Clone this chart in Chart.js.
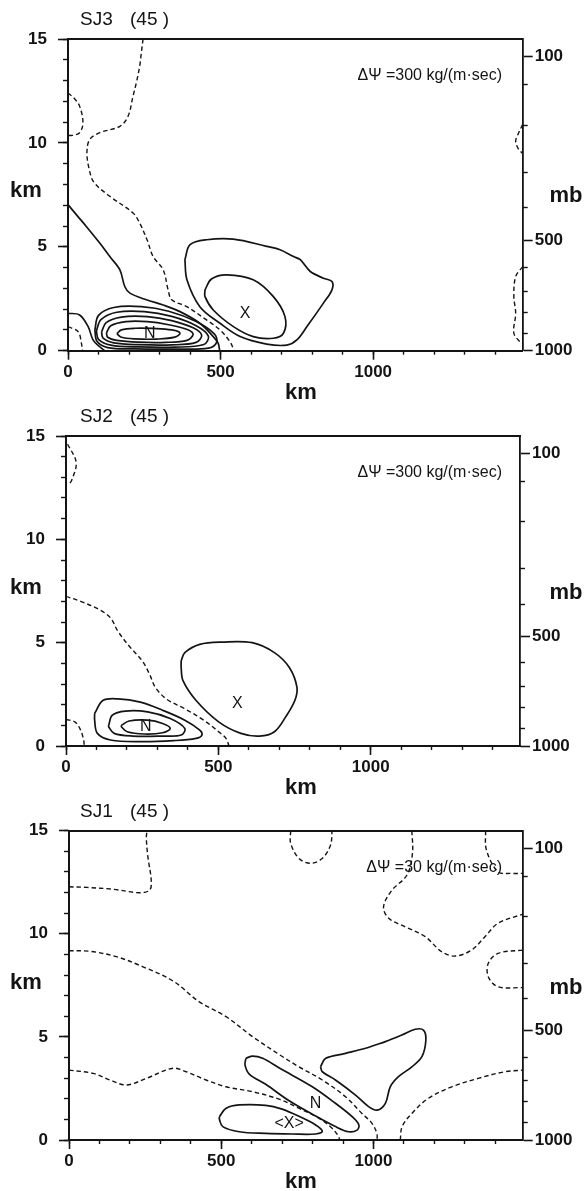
<!DOCTYPE html>
<html>
<head>
<meta charset="utf-8">
<script src="https://cdn.jsdelivr.net/npm/chart.js@4.4.1/dist/chart.umd.min.js"></script>
<style>
  html, body { margin: 0; padding: 0; background: #fff; }
  #wrap { position: relative; width: 586px; height: 1191px; overflow: hidden; }
  canvas { position: absolute; left: 0; }
</style>
</head>
<body>
<div id="wrap">
  <canvas id="c1" width="586" height="410" style="top:0px"></canvas>
  <canvas id="c2" width="586" height="410" style="top:397px"></canvas>
  <canvas id="c3" width="586" height="400" style="top:791px"></canvas>
</div>
<script>
// Axes (km en x et z, pression à droite)
const xMax = 1490;
const xMajorTicks = [0, 500, 1000];
const xMinorTicks = [0, 100, 200, 300, 400, 500, 600, 700, 800, 900, 1000, 1100, 1200, 1300, 1400];
const yMajorTicks = [0, 5, 10, 15];
const yMinorTicks = [0, 1, 2, 3, 4, 5, 6, 7, 8, 9, 10, 11, 12, 13, 14, 15];
const mbLevels  = [100, 150, 200, 300, 400, 500, 600, 700, 800, 900, 1000];
const mbHeights = [14.15, 12.8, 10.85, 8.58, 6.87, 5.3, 4.02, 2.87, 1.85, 0.84, 0];
const mbLabelled = [100, 500, 1000];

// SJ3 : contours [x km, z km]
const sj3DashLong = [[246,15],[240,14.3],[235,13.7],[224,12.9],[213,12.25],[197,11.29],[170,10.8],[104,10.49],[71,10.16],[62,9.52],[70,8.7],[85,8.1],[137,7.43],[213,6.63],[235,6.14],[260,5.3],[279,4.53],[312,3.89],[328,2.93],[340,2.45],[389,2.12],[454,1.48],[498,1.0],[530,0.45],[545,0]];
const sj3DashLoop = [[0,12.4],[20,12.15],[38,11.77],[49,10.97],[38,10.49],[15,10.36],[0,10.36]];
const sj3SolidUpper = [[0,7.03],[30,6.5],[60,5.98],[104,5.18],[137,4.53],[170,3.89],[186,3.09],[203,2.77],[257,2.45],[312,2.2],[367,1.88],[432,1.32],[476,0.68],[492,0.36],[497,0]];
const sj3SolidCorner = [[0,1.8],[38,1.72],[66,1.16],[82,0.52],[104,0.19],[120,0]];
const sj3DashCorner = [[0,1.16],[33,0.92],[44,0.36],[47,0]];
const sj3N1 = [[160,0.82],[175,1.0],[220,1.08],[280,1.07],[340,1.0],[367,0.85],[350,0.65],[290,0.56],[220,0.57],[175,0.65],[160,0.82]];
const sj3N2 = [[126,0.85],[140,1.2],[190,1.4],[260,1.4],[330,1.25],[395,1.0],[410,0.78],[390,0.5],[320,0.4],[230,0.41],[160,0.5],[130,0.65],[126,0.85]];
const sj3N3 = [[110,0.9],[125,1.35],[175,1.62],[260,1.64],[340,1.45],[410,1.1],[438,0.75],[420,0.4],[340,0.28],[230,0.29],[150,0.38],[115,0.6],[110,0.9]];
const sj3N4 = [[93,0.95],[108,1.5],[160,1.85],[250,1.88],[340,1.65],[420,1.2],[460,0.7],[445,0.3],[350,0.17],[230,0.18],[140,0.27],[100,0.55],[93,0.95]];
const sj3N5 = [[88,1.0],[100,1.7],[150,2.08],[240,2.12],[330,1.9],[420,1.4],[480,0.8],[487,0.4],[460,0.12],[350,0.08],[220,0.09],[130,0.15],[95,0.45],[88,1.0]];
const sj3XInner = [[449,2.93],[470,3.45],[520,3.65],[607,3.41],[673,2.6],[711,1.64],[706,0.84],[673,0.6],[607,0.68],[542,1.16],[476,1.96],[449,2.6],[449,2.93]];
const sj3XOuter = [[383,4.38],[400,5.1],[454,5.34],[542,5.37],[651,5.02],[695,4.86],[739,4.53],[761,4.38],[794,3.81],[837,3.49],[865,3.33],[865,2.93],[837,2.29],[783,1.16],[750,0.52],[717,0.27],[651,0.32],[564,0.68],[498,1.32],[432,2.12],[390,3.4],[383,4.38]];
const sj3DashRightUp = [[1490,10.89],[1477,10.49],[1467,10.08],[1477,9.68],[1490,9.5]];
const sj3DashRightLow = [[1490,4.05],[1467,3.57],[1461,2.6],[1467,1.8],[1461,0.84],[1483,0.4],[1490,0.35]];
const sj3Marks = [['N', 268, 0.84], ['X', 580, 1.8]];

// SJ2
const sj2DashLong = [[0,7.24],[48,7.0],[109,6.6],[146,6.2],[170,5.56],[207,4.84],[250,4.12],[274,3.48],[293,2.84],[329,2.28],[390,1.8],[452,1.25],[501,0.69],[525,0.37],[535,0]];
const sj2DashCorner = [[0,1.28],[29,1.17],[48,0.77],[58,0.29],[60,0]];
const sj2DashTop = [[5,14.6],[30,13.92],[33,13.51],[19,12.87],[13,12.71]];
const sj2NOuter = [[94,1.57],[121,2.2],[170,2.28],[244,2.12],[317,1.73],[390,1.25],[439,0.77],[446,0.53],[427,0.37],[354,0.26],[244,0.21],[146,0.29],[103,0.61],[94,1.25],[94,1.57]];
const sj2NMid = [[140,1.0],[152,1.49],[195,1.69],[268,1.65],[342,1.33],[390,0.85],[378,0.53],[317,0.48],[219,0.48],[158,0.61],[140,0.93],[140,1.0]];
const sj2NInner = [[182,1.0],[207,1.21],[268,1.25],[317,1.09],[342,0.85],[317,0.64],[256,0.58],[201,0.69],[182,0.93],[182,1.0]];
const sj2X = [[378,4.12],[390,4.52],[439,4.92],[513,5.03],[611,5.0],[684,4.52],[733,3.8],[758,2.84],[751,2.2],[721,1.41],[684,0.69],[635,0.48],[574,0.61],[501,1.17],[427,2.2],[384,3.16],[378,3.8],[378,4.12]];
const sj2Marks = [['N', 262, 0.93], ['X', 562, 2.04]];

// SJ1
const sj1DashA = [[0,12.28],[58,12.25],[145,12.16],[232,11.99],[265,12.12],[270,12.6],[259,13.74],[254,14.63],[256,15]];
const sj1DashB = [[0,9.18],[69,9.15],[156,8.89],[243,8.4],[341,7.72],[428,6.7],[516,5.98],[603,5.01],[690,4.15],[755,3.55],[832,2.91],[908,2.1],[962,1.29],[995,0.81],[1011,0.32],[1012,0]];
const sj1DashC = [[0,3.39],[79,3.23],[134,2.91],[189,2.67],[254,2.99],[341,3.48],[385,3.31],[450,2.91],[516,2.58],[603,2.34],[690,1.98],[755,1.54],[821,1.05],[864,0.57],[886,0.16],[888,0]];
const sj1LoopN = [[581,3.96],[603,4.07],[636,3.96],[695,3.45],[799,2.58],[875,1.78],[930,1.13],[952,0.73],[946,0.48],[919,0.4],[875,0.65],[799,1.25],[723,1.9],[646,2.7],[592,3.2],[578,3.64],[581,3.96]];
const sj1LoopX = [[494,1.13],[516,1.54],[559,1.7],[646,1.68],[700,1.5],[755,1.15],[810,0.73],[832,0.42],[810,0.29],[733,0.29],[646,0.32],[559,0.4],[505,0.65],[494,1.0],[494,1.13]];
const sj1LoopUR = [[826,3.55],[843,3.96],[908,4.2],[974,4.45],[1006,4.61],[1039,4.77],[1093,5.09],[1137,5.37],[1164,5.33],[1172,4.85],[1159,4.04],[1126,3.55],[1082,3.07],[1055,2.58],[1039,1.78],[1012,1.45],[984,1.62],[941,2.18],[875,2.91],[832,3.31],[826,3.55]];
const sj1DashLR = [[1088,0],[1094,0.65],[1126,1.29],[1180,2.02],[1257,2.58],[1344,2.99],[1431,3.31],[1490,3.39]];
const sj1DashTopLoop = [[728,15],[728,14.39],[755,13.66],[794,13.42],[832,13.66],[859,14.31],[864,15]];
const sj1DashD = [[1126,15],[1128,13.9],[1110,12.85],[1061,12.12],[1033,11.31],[1050,10.75],[1104,10.34],[1170,9.86],[1224,9.13],[1268,8.92],[1322,9.21],[1366,9.86],[1409,10.51],[1490,10.95]];
const sj1DashE = [[1368,15],[1371,14.06],[1409,13.01],[1452,12.93],[1490,12.93]];
const sj1DashF = [[1490,9.21],[1409,9.05],[1377,8.57],[1377,7.92],[1409,7.43],[1490,7.39]];
const sj1Marks = [['N', 810, 1.78], ['<X>', 723, 0.81]];

const INK = '#141414';
const FONT = '"Liberation Sans", Arial, sans-serif';

const panels = [
  {
    id: 'c1', run: 'SJ3', delta: 'ΔΨ =300 kg/(m·sec)',
    solid: [sj3SolidUpper, sj3SolidCorner, sj3N1, sj3N2, sj3N3, sj3N4, sj3N5, sj3XInner, sj3XOuter],
    dashed: [sj3DashLong, sj3DashLoop, sj3DashCorner, sj3DashRightUp, sj3DashRightLow],
    marks: sj3Marks,
    box: { top: 39, bottom: 59.3, left: 68, right: 63.3 }
  },
  {
    id: 'c2', run: 'SJ2', delta: 'ΔΨ =300 kg/(m·sec)',
    solid: [sj2NOuter, sj2NMid, sj2NInner, sj2X],
    dashed: [sj2DashLong, sj2DashCorner, sj2DashTop],
    marks: sj2Marks,
    box: { top: 39, bottom: 61, left: 66, right: 66 }
  },
  {
    id: 'c3', run: 'SJ1', delta: 'ΔΨ =30 kg/(m·sec)',
    solid: [sj1LoopN, sj1LoopX, sj1LoopUR],
    dashed: [sj1DashA, sj1DashB, sj1DashC, sj1DashLR, sj1DashTopLoop, sj1DashD, sj1DashE, sj1DashF],
    marks: sj1Marks,
    box: { top: 39.7, bottom: 51, left: 69, right: 63.3 }
  }
];

function contour(arr, dashed) {
  return {
    data: arr.map(p => ({ x: p[0], y: p[1] })),
    showLine: true,
    borderColor: INK,
    borderWidth: dashed ? 1.4 : 1.7,
    borderDash: dashed ? [4.5, 3] : [],
    pointRadius: 0,
    tension: 0.35,
    fill: false
  };
}

function setTicks(values) {
  return scale => { scale.ticks = values.map(v => ({ value: v })); };
}

const mbMajor = mbLevels.filter(p => mbLabelled.includes(p));
const mbMinor = mbLevels.filter(p => !mbLabelled.includes(p));
const heightOf = p => mbHeights[mbLevels.indexOf(p)];

const tickFont = { family: FONT, size: 17, weight: 'bold' };

// Textes : titre, ΔΨ, unités, et repères N / X
const panelText = {
  id: 'panelText',
  afterDraw(chart, args, opts) {
    const { ctx, chartArea: a } = chart;
    const sx = chart.scales.x, sy = chart.scales.y;
    ctx.save();
    ctx.fillStyle = INK;
    ctx.textBaseline = 'middle';

    ctx.textAlign = 'left';
    ctx.font = '19px ' + FONT;
    ctx.fillText(opts.run, 80, a.top - 19);
    ctx.fillText('(45 )', 130, a.top - 19);

    ctx.textAlign = 'right';
    ctx.font = '16px ' + FONT;
    ctx.fillText(opts.delta, 502, a.top + 37);

    ctx.textAlign = 'center';
    ctx.font = 'bold 22px ' + FONT;
    ctx.fillText('km', 26, a.top + 152);
    ctx.fillText('mb', 566, a.top + 157);
    ctx.fillText('km', 301, a.bottom + 42);

    ctx.font = '16px ' + FONT;
    opts.marks.forEach(m => {
      ctx.fillText(m[0], sx.getPixelForValue(m[1]), sy.getPixelForValue(m[2]));
    });
    ctx.restore();
  }
};

panels.forEach(pn => {
  const b = pn.box;
  const datasets = pn.solid.map(c => contour(c, false)).concat(pn.dashed.map(c => contour(c, true)));
  new Chart(document.getElementById(pn.id), {
    type: 'scatter',
    data: { datasets: datasets },
    plugins: [panelText],
    options: {
      responsive: false,
      animation: false,
      layout: { padding: 0 },
      plugins: {
        legend: { display: false },
        tooltip: { enabled: false },
        panelText: { run: pn.run, delta: pn.delta, marks: pn.marks }
      },
      scales: {
        x: {
          type: 'linear', position: 'bottom', min: 0, max: xMax, weight: 0,
          afterBuildTicks: setTicks(xMajorTicks),
          afterFit: s => { s.height = b.bottom; },
          grid: { drawOnChartArea: false, tickLength: 9, tickWidth: 1.6, tickColor: INK },
          border: { color: INK, width: 2 },
          ticks: { color: INK, font: tickFont, padding: 2, maxRotation: 0, autoSkip: false,
                   callback: v => String(v) }
        },
        xm: {
          type: 'linear', position: 'bottom', min: 0, max: xMax, weight: -5,
          afterBuildTicks: setTicks(xMinorTicks),
          afterFit: s => { s.height = 0; },
          grid: { drawOnChartArea: false, tickLength: 4, tickWidth: 1.4, tickColor: INK },
          border: { display: false },
          ticks: { display: false, autoSkip: false }
        },
        xt: {
          type: 'linear', position: 'top', min: 0, max: xMax,
          afterFit: s => { s.height = b.top; },
          grid: { drawOnChartArea: false, drawTicks: false },
          border: { color: INK, width: 2 },
          ticks: { display: false }
        },
        y: {
          type: 'linear', position: 'left', min: 0, max: 15, weight: 0,
          afterBuildTicks: setTicks(yMajorTicks),
          afterFit: s => { s.width = b.left; },
          grid: { drawOnChartArea: false, tickLength: 10, tickWidth: 1.6, tickColor: INK },
          border: { color: INK, width: 2 },
          ticks: { color: INK, font: tickFont, padding: 11, autoSkip: false }
        },
        ym: {
          type: 'linear', position: 'left', min: 0, max: 15, weight: -5,
          afterBuildTicks: setTicks(yMinorTicks),
          afterFit: s => { s.width = 0; },
          grid: { drawOnChartArea: false, tickLength: 5, tickWidth: 1.4, tickColor: INK },
          border: { display: false },
          ticks: { display: false, autoSkip: false }
        },
        yr: {
          type: 'linear', position: 'right', min: 0, max: 15, weight: 0,
          afterBuildTicks: setTicks(mbMajor.map(heightOf)),
          afterFit: s => { s.width = b.right; },
          grid: { drawOnChartArea: false, tickLength: 10, tickWidth: 1.6, tickColor: INK },
          border: { color: INK, width: 1.8 },
          ticks: { color: INK, font: tickFont, padding: 2, autoSkip: false,
                   callback: (v, i) => String(mbMajor[i]) }
        },
        yrm: {
          type: 'linear', position: 'right', min: 0, max: 15, weight: -5,
          afterBuildTicks: setTicks(mbMinor.map(heightOf)),
          afterFit: s => { s.width = 0; },
          grid: { drawOnChartArea: false, tickLength: 5, tickWidth: 1.4, tickColor: INK },
          border: { display: false },
          ticks: { display: false, autoSkip: false }
        }
      }
    }
  });
});
</script>
</body>
</html>
